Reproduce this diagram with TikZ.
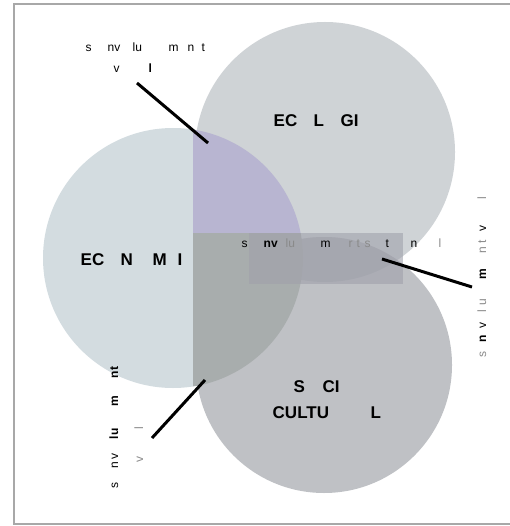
\documentclass[tikz,border=0pt]{standalone}
\usepackage{fontspec}
\setmainfont{Liberation Sans}
\newcommand{\fr}[2]{\makebox[0pt][l]{\hspace{#1pt}#2}}
\definecolor{ecoc}{HTML}{CFD3D6}
\definecolor{socc}{HTML}{BFC1C5}
\definecolor{lensc}{HTML}{AEB0B7}
\definecolor{econc}{HTML}{D3DCE0}
\definecolor{purpc}{HTML}{B8B5D1}
\definecolor{darkc}{HTML}{A8ADAD}
\definecolor{rectc}{HTML}{A0A1AB}
\definecolor{framec}{HTML}{A8A8A8}
\definecolor{faint}{HTML}{8A8A8A}
\tikzset{
  lbl/.style={anchor=base west, inner sep=0pt, font=\fontsize{12}{14}\selectfont},
  captxt/.style={anchor=base west, inner sep=0pt, font=\fontsize{17}{20}\selectfont\bfseries},
  conn/.style={line width=3pt, black},
}
\begin{document}
\begin{tikzpicture}[x=1pt,y=-1pt]
\useasboundingbox (0,0) rectangle (509,526);
% frame
\draw[framec, line width=2pt] (600,4) -- (14,4) -- (14,524) -- (600,524);
% circles
\fill[ecoc] (325,152) circle (130);
\fill[socc] (324,365) circle (128);
\begin{scope}
  \clip (324,365) circle (128);
  \fill[lensc] (325,152) circle (130);
\end{scope}
\begin{scope}
  \clip (0,0) rectangle (193,526);
  \fill[econc] (173,258) circle (130);
\end{scope}
\begin{scope}
  \clip (193,0) rectangle (509,233);
  \fill[purpc] (173,258) circle (130);
\end{scope}
\begin{scope}
  \clip (193,233) rectangle (509,526);
  \fill[darkc] (173,258) circle (130);
\end{scope}
\fill[rectc, opacity=0.6] (249,233) rectangle (403,284);
% circle titles
\node[captxt] (eco) at (273,127) {\fr{0}{EC}\fr{40}{L}\fr{67}{GI}};
\node[captxt] (econ) at (80,265) {\fr{0}{EC}\fr{40}{N}\fr{72}{M}\fr{97}{I}};
\node[captxt] (soc1) at (293,392) {\fr{0}{S}\fr{29}{CI}};
\node[captxt] (soc2) at (272,418) {\fr{0}{CULTU}\fr{98}{L}};
% labels
\node[lbl] (tl1) at (85,52) {\fr{0}{s}\fr{22}{nv}\fr{47}{lu}\fr{83}{m}\fr{102}{n}\fr{116}{t}};
\node[lbl] (tl2) at (113,73) {\fr{0}{v}\fr{35}{\textbf{l}}};
\node[lbl] (ctr) at (241,247) {\fr{0}{s}\fr{22}{\textbf{nv}}\fr{44}{\color{faint}lu}\fr{79}{m}\fr{107}{\color{faint}r}\fr{115}{\color{faint}t}\fr{123}{\color{faint}s}\fr{144}{t}\fr{169}{n}\fr{197}{\color{faint}l}};
\node[lbl, rotate=90] (rt) at (486,358) {\fr{0}{\color{faint}s}\fr{15}{\textbf{n}}\fr{29}{v}\fr{45}{\color{faint}l}\fr{52}{\color{faint}u}\fr{78}{\textbf{m}}\fr{104}{\color{faint}n}\fr{114}{\color{faint}t}\fr{126}{v}\fr{158}{\color{faint}l}};
\node[lbl, rotate=90] (bl1) at (118,489) {\fr{0}{s}\fr{20}{n}\fr{29}{v}\fr{49}{\textbf{lu}}\fr{82}{\textbf{m}}\fr{110}{\textbf{n}}\fr{118}{\textbf{t}}};
\node[lbl, rotate=90] (bl2) at (143,463) {\fr{0}{\color{faint}v}\fr{33}{\color{faint}l}};
% connectors
\coordinate (a1) at (137,83);
\coordinate (a2) at (208,143);
\coordinate (b1) at (382,259);
\coordinate (b2) at (472,287);
\coordinate (c1) at (205,380);
\coordinate (c2) at (152,438);
\draw[conn] (a1) -- (a2);
\draw[conn] (b1) -- (b2);
\draw[conn] (c1) -- (c2);
\end{tikzpicture}
\end{document}
